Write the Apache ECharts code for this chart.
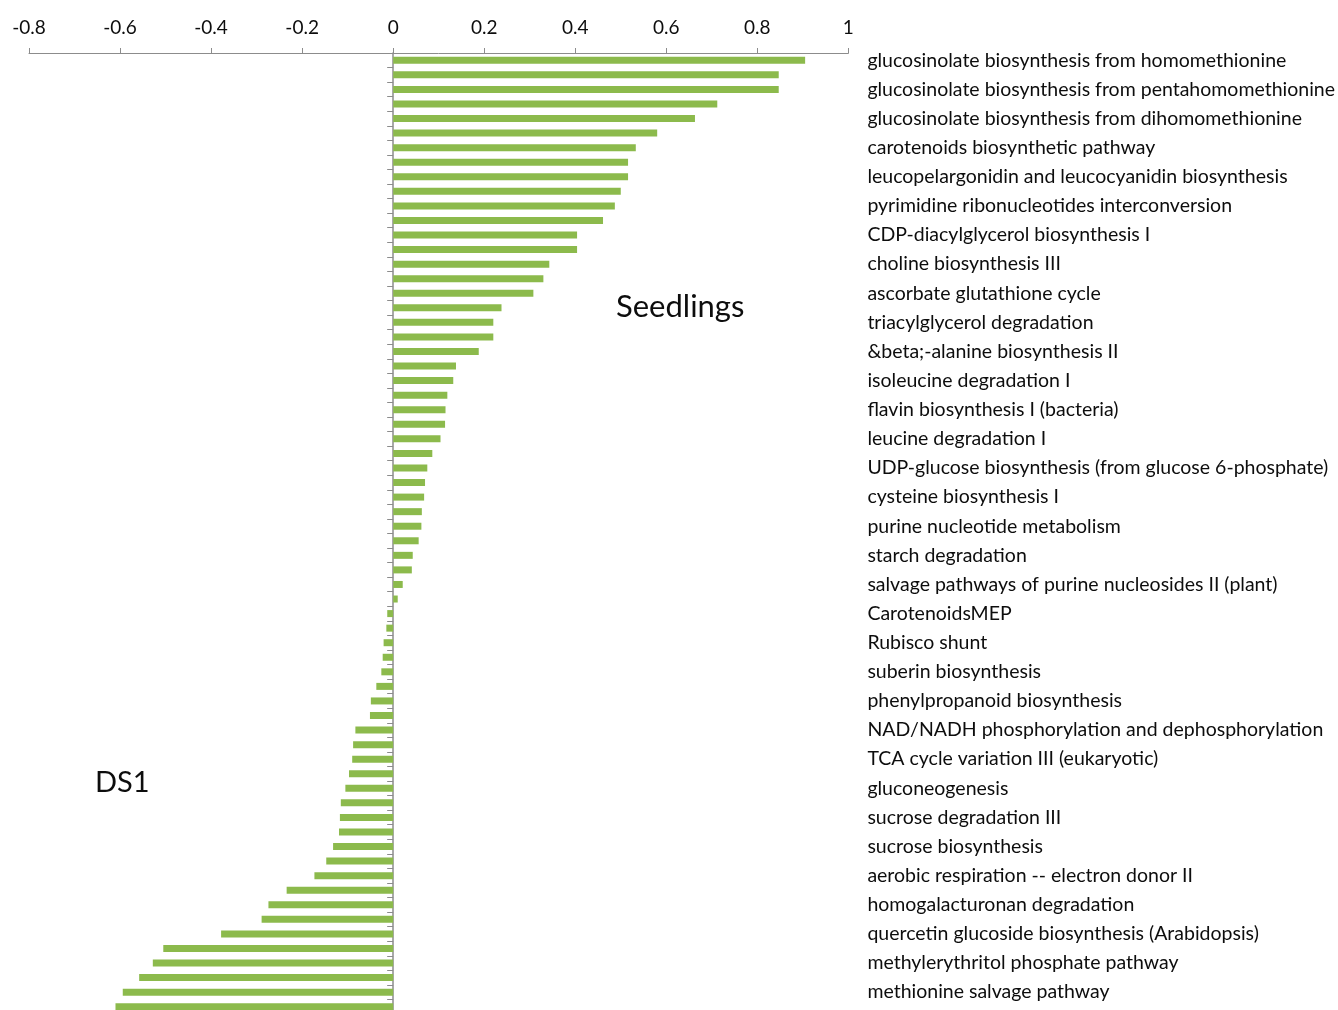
<!DOCTYPE html>
<html>
<head>
<meta charset="utf-8">
<script src="https://cdn.jsdelivr.net/npm/echarts@6/dist/echarts.min.js"></script>
<style>
  html, body { margin: 0; padding: 0; background: #ffffff; overflow: hidden; }
  #chart { width: 1338px; height: 1016px; }
</style>
</head>
<body>
<div id="chart"></div>
<script>
// Pathway scores, ranked from most positive (Seedlings) to most negative (DS1)
const scores = [
  0.905, 0.847, 0.847, 0.712, 0.663, 0.580, 0.533, 0.516, 0.516, 0.500,
  0.487, 0.461, 0.404, 0.404, 0.343, 0.330, 0.308, 0.238, 0.220, 0.220,
  0.188, 0.138, 0.132, 0.119, 0.115, 0.114, 0.104, 0.086, 0.075, 0.070,
  0.068, 0.063, 0.062, 0.056, 0.043, 0.041, 0.021, 0.010, -0.013, -0.015,
  -0.021, -0.023, -0.026, -0.037, -0.049, -0.051, -0.083, -0.088, -0.090, -0.097,
  -0.105, -0.115, -0.117, -0.119, -0.132, -0.147, -0.173, -0.234, -0.274, -0.289,
  -0.378, -0.505, -0.528, -0.558, -0.594, -0.610
];

// Pathway names shown for every other ranked bar (ranks 1, 3, 5, ...)
const pathwayLabels = [
  'glucosinolate biosynthesis from homomethionine',
  'glucosinolate biosynthesis from pentahomomethionine',
  'glucosinolate biosynthesis from dihomomethionine',
  'carotenoids biosynthetic pathway',
  'leucopelargonidin and leucocyanidin biosynthesis',
  'pyrimidine ribonucleotides interconversion',
  'CDP-diacylglycerol biosynthesis I',
  'choline biosynthesis III',
  'ascorbate glutathione cycle',
  'triacylglycerol degradation',
  '&beta;-alanine biosynthesis II',
  'isoleucine degradation I',
  'flavin biosynthesis I (bacteria)',
  'leucine degradation I',
  'UDP-glucose biosynthesis (from glucose 6-phosphate)',
  'cysteine biosynthesis I',
  'purine nucleotide metabolism',
  'starch degradation',
  'salvage pathways of purine nucleosides II (plant)',
  'CarotenoidsMEP',
  'Rubisco shunt',
  'suberin biosynthesis',
  'phenylpropanoid biosynthesis',
  'NAD/NADH phosphorylation and dephosphorylation',
  'TCA cycle variation III (eukaryotic)',
  'gluconeogenesis',
  'sucrose degradation III',
  'sucrose biosynthesis',
  'aerobic respiration -- electron donor II',
  'homogalacturonan degradation',
  'quercetin glucoside biosynthesis (Arabidopsis)',
  'methylerythritol phosphate pathway',
  'methionine salvage pathway'
];

// Value axis ticks
const axisMin = -0.8;
const axisMax = 1;
const axisStep = 0.2;

// Group annotations
const upperGroup = 'Seedlings';
const lowerGroup = 'DS1';

const ranks = scores.map((_, i) => String(i + 1));

const FONT = 'Lato, "Open Sans", sans-serif';
const TEXT = '#0d0d0d';
const AXIS = '#8c8c8c';
const BAR = '#8cba4c';

const chart = echarts.init(document.getElementById('chart'), null, { renderer: 'canvas' });

chart.setOption({
  animation: false,
  backgroundColor: '#ffffff',
  textStyle: { fontFamily: FONT },
  grid: { left: 29, width: 821, top: 53, height: 961, containLabel: false },
  xAxis: {
    type: 'value',
    position: 'top',
    min: axisMin,
    max: axisMax,
    interval: axisStep,
    splitLine: { show: false },
    axisLine: { show: true, onZero: false, lineStyle: { color: AXIS, width: 1 } },
    axisTick: { show: true, inside: false, length: 5, lineStyle: { color: AXIS } },
    axisLabel: { color: TEXT, fontFamily: FONT, fontSize: 19, margin: 16 }
  },
  yAxis: [
    {
      type: 'category',
      data: ranks,
      inverse: true,
      axisLine: { show: true, onZero: true, lineStyle: { color: AXIS, width: 1.5 } },
      axisTick: { show: true, inside: false, length: 6, interval: 0, lineStyle: { color: AXIS } },
      axisLabel: { show: false },
      splitLine: { show: false }
    },
    {
      type: 'category',
      data: ranks,
      inverse: true,
      position: 'right',
      axisLine: { show: false, onZero: false },
      axisTick: { show: false },
      splitLine: { show: false },
      axisLabel: {
        show: true,
        interval: 0,
        margin: 19,
        align: 'left',
        color: TEXT,
        fontFamily: FONT,
        fontSize: 19.5,
        formatter: (value, index) => (index % 2 === 0 ? pathwayLabels[index / 2] : '')
      }
    }
  ],
  series: [
    {
      type: 'bar',
      xAxisIndex: 0,
      yAxisIndex: 0,
      data: scores,
      barWidth: 7,
      itemStyle: { color: BAR },
      silent: true
    }
  ],
  graphic: [
    {
      type: 'text',
      x: 616,
      y: 307,
      style: { text: upperGroup, font: '31px ' + FONT, fill: TEXT, verticalAlign: 'middle', align: 'left' }
    },
    {
      type: 'text',
      x: 95,
      y: 783,
      style: { text: lowerGroup, font: '29px ' + FONT, fill: TEXT, verticalAlign: 'middle', align: 'left' }
    }
  ]
});
</script>
</body>
</html>
